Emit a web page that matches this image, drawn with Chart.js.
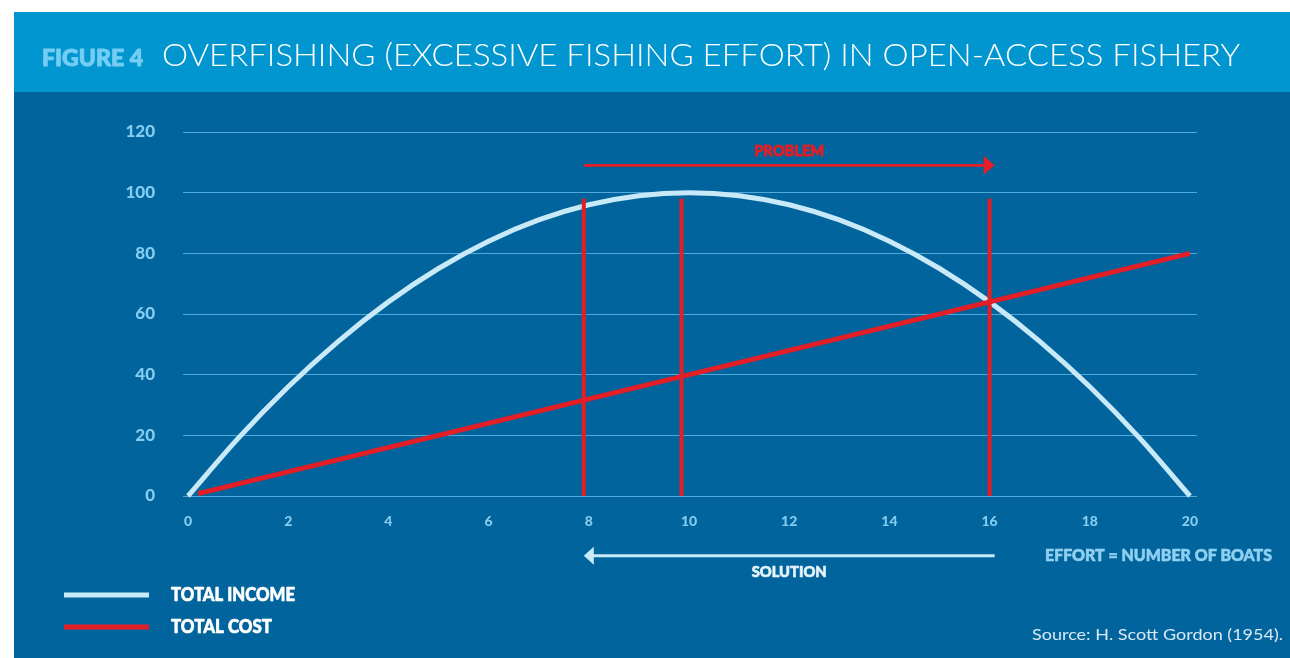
<!DOCTYPE html>
<html>
<head>
<meta charset="utf-8">
<script src="https://cdn.jsdelivr.net/npm/chart.js@4.4.1/dist/chart.umd.min.js"></script>
<style>
  html, body { margin: 0; padding: 0; background: #ffffff; overflow: hidden; }
  canvas { display: block; }
</style>
</head>
<body>
<canvas id="chart" width="1290" height="658"></canvas>
<script>
// Effort (number of boats) and the revenue / cost curves
const effort = [0, 1, 2, 3, 4, 5, 6, 7, 8, 9, 10, 11, 12, 13, 14, 15, 16, 17, 18, 19, 20];
const totalIncome = [0, 19, 36, 51, 64, 75, 84, 91, 96, 99, 100, 99, 96, 91, 84, 75, 64, 51, 36, 19, 0];
const costEffort = [0.2, 20];
const totalCost = [0.8, 80];

// Reference effort levels marked with vertical bars
const markerEffort = [7.9, 9.85, 16];
const markerTop = [98, 98, 98];

// Arrows: PROBLEM (to the right, above the curve) and SOLUTION (to the left, below the axis)
const arrowFrom = [7.9, 16.1];
const arrowTo = [16.1, 7.9];
const arrowLevel = [109, -19.7];
const arrowLabels = ['PROBLEM', 'SOLUTION'];

const xTicks = [0, 2, 4, 6, 8, 10, 12, 14, 16, 18, 20];
const yTicks = [0, 20, 40, 60, 80, 100, 120];

const seriesNames = ['TOTAL INCOME', 'TOTAL COST'];
const titleTag = 'FIGURE 4';
const titleText = 'OVERFISHING (EXCESSIVE FISHING EFFORT) IN OPEN-ACCESS FISHERY';
const axisNote = 'EFFORT = NUMBER OF BOATS';
const sourceNote = 'Source: H. Scott Gordon (1954).';

const RED = '#e31e26';
const ICE = '#c8e9f8';
const HEADER = '#0196cf';
const PANEL = '#02649c';
const TICK = '#84cdf0';
const heavy = (s) => '900 ' + s + 'px Lato, "Open Sans", sans-serif';

// Draws text squeezed/stretched horizontally to a given width; an optional
// outline in the same colour thickens the strokes of bold labels
function fitText(ctx, text, x, y, width, font, color, baseline, thicken) {
  ctx.save();
  ctx.font = font;
  ctx.fillStyle = color;
  ctx.strokeStyle = color;
  ctx.textAlign = 'left';
  ctx.textBaseline = baseline || 'alphabetic';
  const w = ctx.measureText(text).width;
  ctx.translate(x, y);
  ctx.scale(width / w, 1);
  ctx.fillText(text, 0, 0);
  if (thicken) {
    ctx.lineWidth = thicken;
    ctx.lineJoin = 'round';
    ctx.strokeText(text, 0, 0);
  }
  ctx.restore();
}

function drawArrow(ctx, x1, x2, y, color, lw, headLen, headHalf) {
  const dir = Math.sign(x2 - x1);
  ctx.save();
  ctx.strokeStyle = color;
  ctx.fillStyle = color;
  ctx.lineWidth = lw;
  ctx.beginPath();
  ctx.moveTo(x1, y);
  ctx.lineTo(x2 - dir * headLen * 0.8, y);
  ctx.stroke();
  ctx.beginPath();
  ctx.moveTo(x2, y);
  ctx.lineTo(x2 - dir * headLen, y - headHalf);
  ctx.lineTo(x2 - dir * headLen, y + headHalf);
  ctx.closePath();
  ctx.fill();
  ctx.restore();
}

const framePlugin = {
  id: 'frame',
  beforeDraw(chart) {
    const ctx = chart.ctx;
    ctx.save();
    ctx.fillStyle = '#ffffff';
    ctx.fillRect(0, 0, chart.width, chart.height);
    ctx.fillStyle = HEADER;
    ctx.fillRect(14, 12, chart.width - 14, 80);
    ctx.fillStyle = PANEL;
    ctx.fillRect(14, 92, chart.width - 14, chart.height - 92);
    ctx.restore();
    fitText(ctx, titleTag, 42, 66, 101, heavy(22), '#74cdf2', 'alphabetic', 0.9);
    fitText(ctx, titleText, 162, 66, 1078, '300 32px Lato, "Open Sans", sans-serif', '#ffffff');
  },
  afterDatasetsDraw(chart) {
    const ctx = chart.ctx;
    const xs = chart.scales.x, ys = chart.scales.y;
    // PROBLEM arrow
    const py = ys.getPixelForValue(arrowLevel[0]);
    drawArrow(ctx, xs.getPixelForValue(arrowFrom[0]), xs.getPixelForValue(arrowTo[0]), py, RED, 2.8, 11, 9.5);
    const pc = (xs.getPixelForValue(arrowFrom[0]) + xs.getPixelForValue(arrowTo[0])) / 2;
    fitText(ctx, arrowLabels[0], pc - 35, py - 14, 70, heavy(15), RED, 'middle', 0.8);
    // SOLUTION arrow
    const sy = ys.getPixelForValue(arrowLevel[1]);
    drawArrow(ctx, xs.getPixelForValue(arrowFrom[1]), xs.getPixelForValue(arrowTo[1]), sy, ICE, 3, 10, 9);
    const sc = (xs.getPixelForValue(arrowFrom[1]) + xs.getPixelForValue(arrowTo[1])) / 2;
    fitText(ctx, arrowLabels[1], sc - 37.5, sy + 16, 75, heavy(15), '#e6f3fa', 'middle', 0.6);
    // Axis note
    fitText(ctx, axisNote, 1045, 556, 227, heavy(16), '#8fd0f0', 'middle', 0.6);
    // Legend
    const legendColors = [ICE, RED];
    const legendY = [595, 627];
    const legendW = [124, 101];
    for (let i = 0; i < seriesNames.length; i++) {
      ctx.save();
      ctx.strokeStyle = legendColors[i];
      ctx.lineWidth = 5;
      ctx.beginPath();
      ctx.moveTo(64, legendY[i]);
      ctx.lineTo(149, legendY[i]);
      ctx.stroke();
      ctx.restore();
      fitText(ctx, seriesNames[i], 171, legendY[i], legendW[i], heavy(18), '#ffffff', 'middle', 0.6);
    }
    // Source
    fitText(ctx, sourceNote, 1032, 635, 251, '400 16px Lato, "Open Sans", sans-serif', '#d6e9f5', 'middle');
  }
};

const markerSets = markerEffort.map((m, i) => ({
  label: 'marker' + i,
  data: [{ x: m, y: 0 }, { x: m, y: markerTop[i] }],
  borderColor: RED,
  borderWidth: 4,
  pointRadius: 0,
  clip: false,
  borderCapStyle: 'butt'
}));

new Chart(document.getElementById('chart'), {
  type: 'line',
  data: {
    datasets: [
      ...markerSets,
      {
        label: seriesNames[1],
        data: costEffort.map((x, i) => ({ x, y: totalCost[i] })),
        borderColor: RED,
        borderWidth: 5,
        pointRadius: 0,
        clip: false
      },
      {
        label: seriesNames[0],
        data: effort.map((x, i) => ({ x, y: totalIncome[i] })),
        borderColor: ICE,
        borderWidth: 5,
        pointRadius: 0,
        cubicInterpolationMode: 'monotone',
        clip: false
      }
    ]
  },
  options: {
    responsive: false,
    animation: false,
    events: [],
    layout: { padding: { left: 0, right: 93, top: 132, bottom: 0 } },
    plugins: { legend: { display: false }, tooltip: { enabled: false } },
    scales: {
      x: {
        type: 'linear',
        min: -0.1,
        max: 20.14,
        afterBuildTicks: (axis) => { axis.ticks = xTicks.map(v => ({ value: v })); },
        afterFit: (axis) => { axis.height = 162; },
        grid: { display: false, drawTicks: false },
        border: { display: false },
        ticks: {
          color: TICK,
          padding: 17,
          maxRotation: 0,
          autoSkip: false,
          font: { family: 'Lato, "Open Sans", sans-serif', size: 14, weight: '900' }
        }
      },
      y: {
        min: 0,
        max: 120,
        afterBuildTicks: (axis) => { axis.ticks = yTicks.map(v => ({ value: v })); },
        afterFit: (axis) => { axis.width = 183; },
        grid: { color: '#4fa9da', lineWidth: 1, drawTicks: false },
        border: { display: false },
        ticks: {
          color: TICK,
          padding: 28,
          font: { family: 'Lato, "Open Sans", sans-serif', size: 17, weight: '900' }
        }
      }
    }
  },
  plugins: [framePlugin]
});
</script>
</body>
</html>
